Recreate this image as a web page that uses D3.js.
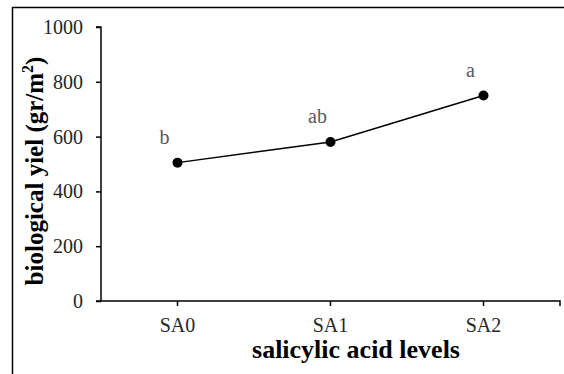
<!DOCTYPE html>
<html>
<head>
<meta charset="utf-8">
<script src="https://cdn.jsdelivr.net/npm/d3@7"></script>
<style>
  body { margin: 0; background: #fff; }
  svg { display: block; }
</style>
</head>
<body>
<div id="chart"></div>
<script>
// chart values
var levels = ["SA0", "SA1", "SA2"];
var yieldVals = [505, 580, 750];
var letters = ["b", "ab", "a"];
var yTicks = [0, 200, 400, 600, 800, 1000];

var W = 564, H = 374;
var mLeft = 101, mRight = 560, mTop = 27, mBottom = 301;

var svg = d3.select("#chart").append("svg")
    .attr("width", W).attr("height", H);

// outer frame (only top/left edges fall in view)
svg.append("rect")
    .attr("x", 12.5).attr("y", 7.5)
    .attr("width", 600).attr("height", 400)
    .attr("fill", "none").attr("stroke", "#000").attr("stroke-width", 1.5);

var x = d3.scaleBand().domain(levels).range([mLeft, mRight]);
var y = d3.scaleLinear().domain([0, 1000]).range([mBottom, mTop]);

var font = "'Liberation Serif', 'Times New Roman', serif";

// y axis
var yAxis = svg.append("g")
    .attr("transform", "translate(" + mLeft + ",0)")
    .call(d3.axisLeft(y).tickValues(yTicks).tickSize(5).tickPadding(13).tickFormat(d3.format("d")));
yAxis.select(".domain").attr("stroke", "#000").attr("stroke-width", 1.5)
    .attr("d", "M-5," + mTop + "H0V" + mBottom);
yAxis.selectAll(".tick line").attr("stroke", "#000").attr("stroke-width", 1.5);
yAxis.selectAll("text").attr("font-family", font).attr("font-size", 20).attr("fill", "#262626");

// x axis
var xAxis = svg.append("g")
    .attr("transform", "translate(0," + mBottom + ")")
    .call(d3.axisBottom(x).tickSize(5).tickPadding(12));
xAxis.select(".domain").attr("stroke", "#000").attr("stroke-width", 1.5)
    .attr("d", "M" + (mLeft - 5) + ",0H" + mRight + "V5");
xAxis.selectAll(".tick line").attr("stroke", "#000").attr("stroke-width", 1.5);
xAxis.selectAll("text").attr("font-family", font).attr("font-size", 20).attr("fill", "#262626");

// line + markers
var cx = function (d, i) { return x(levels[i]) + x.bandwidth() / 2; };
var line = d3.line()
    .x(function (d, i) { return cx(d, i); })
    .y(function (d) { return y(d); });

svg.append("path")
    .datum(yieldVals)
    .attr("d", line)
    .attr("fill", "none").attr("stroke", "#000").attr("stroke-width", 1.5);

svg.selectAll("circle.pt")
    .data(yieldVals).enter().append("circle")
    .attr("class", "pt")
    .attr("cx", cx)
    .attr("cy", function (d) { return y(d); })
    .attr("r", 5).attr("fill", "#000");

// significance letters
svg.selectAll("text.sig")
    .data(letters).enter().append("text")
    .attr("class", "sig")
    .attr("x", function (d, i) { return cx(d, i) - 13; })
    .attr("y", function (d, i) { return y(yieldVals[i]) - 19; })
    .attr("text-anchor", "middle")
    .attr("font-family", font).attr("font-size", 20).attr("fill", "#595959")
    .text(function (d) { return d; });

// axis titles
svg.append("text")
    .attr("x", 356).attr("y", 358)
    .attr("text-anchor", "middle")
    .attr("font-family", font).attr("font-size", 26).attr("font-weight", "bold")
    .text("salicylic acid levels");

var yt = svg.append("text")
    .attr("transform", "translate(43,171) rotate(-90)")
    .attr("text-anchor", "middle")
    .attr("font-family", font).attr("font-size", 25).attr("font-weight", "bold");
yt.append("tspan").text("biological yiel (gr/m");
yt.append("tspan").attr("font-size", 16).attr("dy", -10).text("2");
yt.append("tspan").attr("dy", 10).text(")");
</script>
</body>
</html>
